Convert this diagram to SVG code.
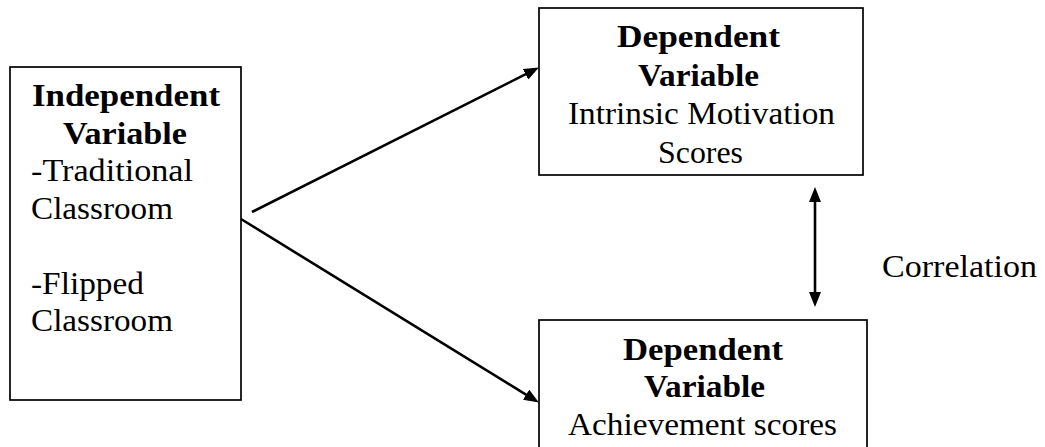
<svg xmlns="http://www.w3.org/2000/svg" width="1045" height="447" viewBox="0 0 1045 447">
<style>
  .box { fill: #ffffff; stroke: #000000; stroke-width: 1.7; }
  .t { font-family: "Liberation Serif", "Times New Roman", serif; font-size: 31px; fill: #000000; }
  .b { font-weight: bold; }
  .c { text-anchor: middle; }
  .conn { stroke: #000000; stroke-width: 2.6; fill: none; }
</style>
<defs>
  <marker id="ah" viewBox="0 0 15 12" refX="7" refY="6" markerWidth="15" markerHeight="12" markerUnits="userSpaceOnUse" orient="auto-start-reverse">
    <path d="M0,0 L15,6 L0,12 Z" fill="#000000"/>
  </marker>
</defs>
<rect width="1045" height="447" fill="#ffffff"/>

<g id="independent">
  <rect class="box" x="10" y="67" width="231" height="333"/>
  <text class="t b c" x="126" y="106" textLength="188" lengthAdjust="spacingAndGlyphs">Independent</text>
  <text class="t b c" x="125" y="143.5" textLength="124" lengthAdjust="spacingAndGlyphs">Variable</text>
  <text class="t" x="31" y="181" textLength="162" lengthAdjust="spacingAndGlyphs">-Traditional</text>
  <text class="t" x="31" y="218.5" textLength="142" lengthAdjust="spacingAndGlyphs">Classroom</text>
  <text class="t" x="31" y="293.5" textLength="113" lengthAdjust="spacingAndGlyphs">-Flipped</text>
  <text class="t" x="31" y="331" textLength="142" lengthAdjust="spacingAndGlyphs">Classroom</text>
</g>

<g id="motivation">
  <rect class="box" x="539" y="8" width="324" height="167"/>
  <text class="t b c" x="698.5" y="47" textLength="163" lengthAdjust="spacingAndGlyphs">Dependent</text>
  <text class="t b c" x="698.5" y="85.5" textLength="121" lengthAdjust="spacingAndGlyphs">Variable</text>
  <text class="t c" x="701.5" y="124" textLength="267" lengthAdjust="spacingAndGlyphs">Intrinsic Motivation</text>
  <text class="t c" x="700.5" y="162.5" textLength="85" lengthAdjust="spacingAndGlyphs">Scores</text>
</g>

<g id="achievement">
  <rect class="box" x="539" y="320" width="328" height="150"/>
  <text class="t b c" x="703" y="360" textLength="160" lengthAdjust="spacingAndGlyphs">Dependent</text>
  <text class="t b c" x="704.5" y="397" textLength="121" lengthAdjust="spacingAndGlyphs">Variable</text>
  <text class="t c" x="702.5" y="435" textLength="269" lengthAdjust="spacingAndGlyphs">Achievement scores</text>
</g>

<g id="correlation-label">
  <text class="t" x="882" y="277" textLength="155" lengthAdjust="spacingAndGlyphs">Correlation</text>
</g>

<g id="connectors">
  <line class="conn" x1="252" y1="212" x2="531.75" y2="71.15" marker-end="url(#ah)"/>
  <line class="conn" x1="241" y1="219" x2="532.05" y2="398.35" marker-end="url(#ah)"/>
  <line class="conn" x1="815" y1="195" x2="815" y2="299" marker-start="url(#ah)" marker-end="url(#ah)"/>
</g>
</svg>
